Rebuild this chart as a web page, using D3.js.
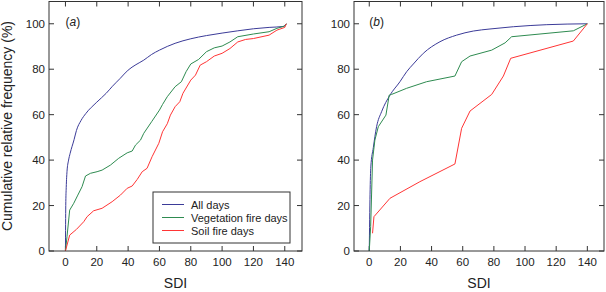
<!DOCTYPE html>
<html>
<head>
<meta charset="utf-8">
<script src="https://cdn.jsdelivr.net/npm/d3@7"></script>
<style>
  body { margin: 0; background: #fff; }
  text { font-family: "Liberation Sans", Arial, sans-serif; fill: #222; }
</style>
</head>
<body>
<div id="chart"></div>
<script>
// series: [SDI, cumulative %]
var allDaysA = [[0,0],[0.2,20],[0.5,28],[1,35],[2,40],[3,43],[5.5,49],[7,53],[10,57.5],[13,60.5],[20,65.5],[26,69.4],[30,72.5],[35,76],[40,79.6],[45,82],[50,84],[55,86.5],[60,88.4],[70,91.4],[80,93.4],[90,94.8],[100,95.9],[110,96.9],[120,97.8],[130,98.4],[139,98.8],[141,100]]
var vegA = [[0,0],[1,6.3],[2.7,18],[5.3,21],[7.9,24.6],[10.6,28.3],[12.8,33],[16,34.2],[20.2,34.9],[23.4,35.6],[28.7,37.8],[34,40.8],[39.4,43.2],[42.6,44],[44.7,46.6],[47.9,48.8],[50,51.8],[55,56.9],[60,62],[62,64.5],[65,67.9],[70,72.3],[74,74.5],[77,78.9],[80,82.3],[85,84.3],[90,87.7],[95,89.4],[100,90.2],[105,92],[110,94.3],[120,95.5],[130,96.5],[135,98],[140,99],[141,100]]
var soilA = [[0,0],[2.7,7],[7,9.5],[11.7,12.9],[13.8,15.1],[18,17.7],[23.4,18.8],[29.8,21.7],[35.1,24.6],[39.4,27.6],[42.6,28.6],[45.8,31.5],[49,34.9],[52.1,36.4],[55.3,41.5],[59.6,47.4],[62,52.5],[65,56],[67,59.8],[70,63.5],[73,65.7],[75,69.4],[80,75.2],[83,77.4],[86,81.8],[90,83.3],[95,85.8],[100,87],[105,89.1],[110,92],[115,93.1],[120,93.5],[130,95],[135,97.2],[140,98.4],[141,100]]

var allDaysB = [[0,0],[0.5,25],[1,37],[2.6,45.5],[4.7,54.7],[7.9,61.3],[13.3,68.6],[19.7,74.5],[24,78.9],[28.3,82.3],[34.7,87],[45.4,92.1],[56.1,95],[66.8,96.8],[77.5,97.7],[92.5,98.7],[114,99.6],[140,100]]
var vegB = [[0,0],[0.9,10.7],[2.1,40],[3.6,48.8],[5.8,54.7],[10.7,59.8],[12.8,68.6],[14.3,68.9],[24,71.6],[36.8,74.5],[55,77],[59.3,83.3],[64.7,85.8],[78.6,88.4],[87.2,91.6],[91.4,94.3],[131,96.9],[140,100]]
var soilB = [[2.1,7.8],[3,15.1],[13.3,23.2],[32.5,30.5],[55,38.3],[59.3,54],[64.7,61.6],[78.6,68.9],[86.1,77],[90.8,84.8],[131,92.4],[140,100]]

var xTicks = [0,20,40,60,80,100,120,140]
var yTicks = [0,20,40,60,80,100]
var seriesNames = ["All days","Vegetation fire days","Soil fire days"]
var colors = ["#3b3b98","#2e8b50","#ff3535"]

var W = 606, H = 292
var svg = d3.select("#chart").append("svg")
  .attr("width", W).attr("height", H)

var plotTop = 1.5, plotBottom = 251

function panel(left, right, xMin, xMax, label, series){
  var x = d3.scaleLinear().domain([xMin, xMax]).range([left, right])
  var y = d3.scaleLinear().domain([0, 109.8]).range([plotBottom, plotTop])
  var g = svg.append("g")

  // ticks (inward) on all four sides
  g.selectAll(".tb").data(xTicks).enter().append("line")
    .attr("x1", d => x(d)).attr("x2", d => x(d))
    .attr("y1", plotBottom).attr("y2", plotBottom - 5)
    .attr("stroke", "#333")
  g.selectAll(".tt").data(xTicks).enter().append("line")
    .attr("x1", d => x(d)).attr("x2", d => x(d))
    .attr("y1", plotTop).attr("y2", plotTop + 5)
    .attr("stroke", "#333")
  g.selectAll(".tl").data(yTicks).enter().append("line")
    .attr("x1", left).attr("x2", left + 5)
    .attr("y1", d => y(d)).attr("y2", d => y(d))
    .attr("stroke", "#333")
  g.selectAll(".tr").data(yTicks).enter().append("line")
    .attr("x1", right).attr("x2", right - 5)
    .attr("y1", d => y(d)).attr("y2", d => y(d))
    .attr("stroke", "#333")

  g.selectAll(".xl").data(xTicks).enter().append("text")
    .attr("x", d => x(d)).attr("y", 266)
    .attr("text-anchor", "middle").style("font-size", "11.5px")
    .text(d => d)
  g.selectAll(".yl").data(yTicks).enter().append("text")
    .attr("x", left - 4).attr("y", d => y(d) + 4)
    .attr("text-anchor", "end").style("font-size", "11.5px")
    .text(d => d)

  var line = d3.line().x(d => x(d[0])).y(d => y(d[1]))
  var smooth = d3.line().x(d => x(d[0])).y(d => y(d[1])).curve(d3.curveMonotoneX)
  series.forEach(function(s, i){
    g.append("path").datum(s)
      .attr("d", i == 0 ? smooth : line)
      .attr("fill", "none")
      .attr("stroke", colors[i])
      .attr("stroke-width", 1)
  })

  g.append("rect")
    .attr("x", left).attr("y", plotTop)
    .attr("width", right - left).attr("height", plotBottom - plotTop)
    .attr("fill", "none").attr("stroke", "#333").attr("stroke-width", 1)

  var lab = g.append("text").attr("x", x(0)).attr("y", 26).style("font-size", "12px")
  lab.append("tspan").text("(")
  lab.append("tspan").style("font-style", "italic").text(label)
  lab.append("tspan").text(")")

  g.append("text").attr("x", (left + right) / 2).attr("y", 288)
    .attr("text-anchor", "middle").style("font-size", "14px").text("SDI")
  return g
}

var ga = panel(49, 302, -10.5, 151, "a", [allDaysA, vegA, soilA])
panel(354, 604, -9.8, 150.7, "b", [allDaysB, vegB, soilB])

svg.append("text")
  .attr("transform", "translate(12," + 126 + ") rotate(-90)")
  .attr("text-anchor", "middle").style("font-size", "14px")
  .text("Cumulative relative frequency (%)")

// legend
var lg = ga.append("g").attr("transform", "translate(153,192)")
lg.append("rect").attr("width", 137).attr("height", 51)
  .attr("fill", "#fff").attr("stroke", "#333")
seriesNames.forEach(function(n, i){
  lg.append("line").attr("x1", 9).attr("x2", 31)
    .attr("y1", 12.5 + i * 13).attr("y2", 12.5 + i * 13)
    .attr("stroke", colors[i])
  lg.append("text").attr("x", 38).attr("y", 16.5 + i * 13)
    .style("font-size", "11px").text(n)
})
</script>
</body>
</html>
